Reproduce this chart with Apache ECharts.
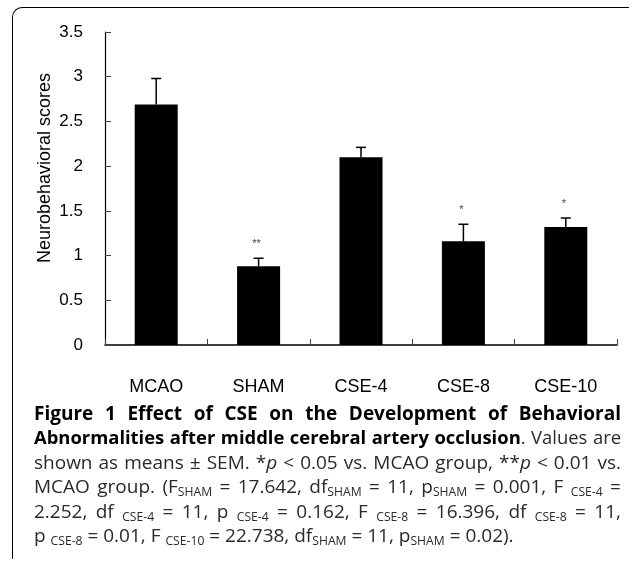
<!DOCTYPE html>
<html>
<head>
<meta charset="utf-8">
<script src="https://cdn.jsdelivr.net/npm/echarts@6/dist/echarts.min.js"></script>
<style>
  html, body { margin: 0; padding: 0; background: #fff; }
  #wrap { position: relative; width: 632px; height: 562px; overflow: hidden; }
  #chart { position: absolute; left: 0; top: 0; width: 632px; height: 562px; }
  #frame { position: absolute; left: 12px; top: 7px; width: 616px; height: 551px;
           border-left: 1.5px solid #000; border-top: 1.5px solid #000; border-top-left-radius: 10px; }
  #caption { position: absolute; left: 34px; top: 401px; width: 587px;
             font-family: "Open Sans", "Noto Sans", sans-serif; font-size: 19px; color: #2a2a2a; }
  #caption .ln { height: 24.4px; line-height: 24.4px; white-space: nowrap; text-align: left; }
  #caption .ln.just { text-align: justify; text-align-last: justify; }
  #caption b { font-weight: 700; color: #000; }
  #caption sub { font-size: 0.64em; vertical-align: -3px; line-height: 0; }
</style>
</head>
<body>
<div id="wrap">
  <div id="frame"></div>
  <div id="chart"></div>
  <div id="caption">
    <div class="ln" data-j="1"><span><b>Figure 1 Effect of CSE on the Development of Behavioral</b></span></div>
    <div class="ln" data-j="1"><span><b>Abnormalities after middle cerebral artery occlusion</b>. Values are</span></div>
    <div class="ln" data-j="1"><span>shown as means ± SEM. *<i>p</i> &lt; 0.05 vs. MCAO group, **<i>p</i> &lt; 0.01 vs.</span></div>
    <div class="ln" data-j="1"><span>MCAO group. (F<sub>SHAM</sub> = 17.642, df<sub>SHAM</sub> = 11, p<sub>SHAM</sub> = 0.001, F <sub>CSE-4</sub> =</span></div>
    <div class="ln" data-j="1"><span>2.252, df <sub>CSE-4</sub> = 11, p <sub>CSE-4</sub> = 0.162, F <sub>CSE-8</sub> = 16.396, df <sub>CSE-8</sub> = 11,</span></div>
    <div class="ln" data-j="0"><span>p <sub>CSE-8</sub> = 0.01, F <sub>CSE-10</sub> = 22.738, df<sub>SHAM</sub> = 11, p<sub>SHAM</sub> = 0.02).</span></div>
  </div>
</div>
<script>
const categories = ['MCAO', 'SHAM', 'CSE-4', 'CSE-8', 'CSE-10'];
const means = [2.69, 0.88, 2.10, 1.16, 1.32];
const sems = [0.29, 0.09, 0.11, 0.19, 0.10];
const significance = ['', '**', '', '*', '*'];
const yTicks = { min: 0, max: 3.5, interval: 0.5 };
const yAxisTitle = 'Neurobehavioral scores';

// fit caption lines to the column width, then justify
(function fitCaption() {
  const maxW = 586;
  document.querySelectorAll('#caption .ln').forEach(ln => {
    const span = ln.querySelector('span');
    let fs = 19;
    ln.style.fontSize = fs + 'px';
    let w = span.getBoundingClientRect().width;
    if (w > maxW) {
      fs = fs * (maxW - 4) / w;
      ln.style.fontSize = fs.toFixed(2) + 'px';
    }
    if (ln.dataset.j === '1') ln.classList.add('just');
  });
})();

const axisFont = '"Liberation Sans Narrow", "Arial Narrow", "Liberation Sans", Arial, sans-serif';

const chart = echarts.init(document.getElementById('chart'), null, { renderer: 'canvas' });

const errData = means.map((m, i) => [i, m, m + sems[i], significance[i]]);

chart.setOption({
  animation: false,
  backgroundColor: 'transparent',
  grid: { left: 105, right: 15, top: 32, bottom: 217, containLabel: false },
  xAxis: {
    type: 'category',
    data: categories,
    boundaryGap: true,
    axisLine: { lineStyle: { color: '#000', width: 1.5 } },
    axisTick: { show: true, inside: true, length: 6, lineStyle: { color: '#444', width: 1 } },
    axisLabel: { color: '#000', fontFamily: axisFont, fontSize: 18, margin: 33 },
    splitLine: { show: false }
  },
  yAxis: {
    type: 'value',
    min: yTicks.min, max: yTicks.max, interval: yTicks.interval,
    axisLine: { show: true, lineStyle: { color: '#000', width: 1.2 } },
    axisTick: { show: true, inside: true, length: 6, lineStyle: { color: '#444', width: 1 } },
    axisLabel: { color: '#000', fontFamily: axisFont, fontSize: 17, margin: 22,
                 formatter: v => String(v) },
    splitLine: { show: false }
  },
  graphic: [{
    type: 'text',
    x: 45, y: 168,
    rotation: Math.PI / 2,
    style: {
      text: yAxisTitle,
      fontFamily: axisFont, fontSize: 18, fill: '#000',
      align: 'center', verticalAlign: 'middle'
    }
  }],
  series: [
    {
      type: 'bar',
      data: means,
      barWidth: 43,
      itemStyle: { color: '#000' },
      z: 2
    },
    {
      type: 'custom',
      data: errData,
      z: 3,
      renderItem: function (params, api) {
        const x = api.value(0);
        const base = api.coord([x, api.value(1)]);
        const top = api.coord([x, api.value(2)]);
        const sig = api.value(3);
        const half = 5;
        const children = [
          { type: 'line', shape: { x1: base[0], y1: base[1], x2: top[0], y2: top[1] },
            style: { stroke: '#000', lineWidth: 1.5 } },
          { type: 'line', shape: { x1: top[0] - half, y1: top[1], x2: top[0] + half, y2: top[1] },
            style: { stroke: '#000', lineWidth: 1.5 } }
        ];
        if (sig) {
          children.push({ type: 'text', x: top[0] - 2, y: top[1] - 14,
            style: { text: sig, fontSize: 11, fontFamily: 'Liberation Sans, Arial, sans-serif',
                     fill: '#444', align: 'center', verticalAlign: 'middle' } });
        }
        return { type: 'group', children: children };
      }
    }
  ]
});
</script>
</body>
</html>
